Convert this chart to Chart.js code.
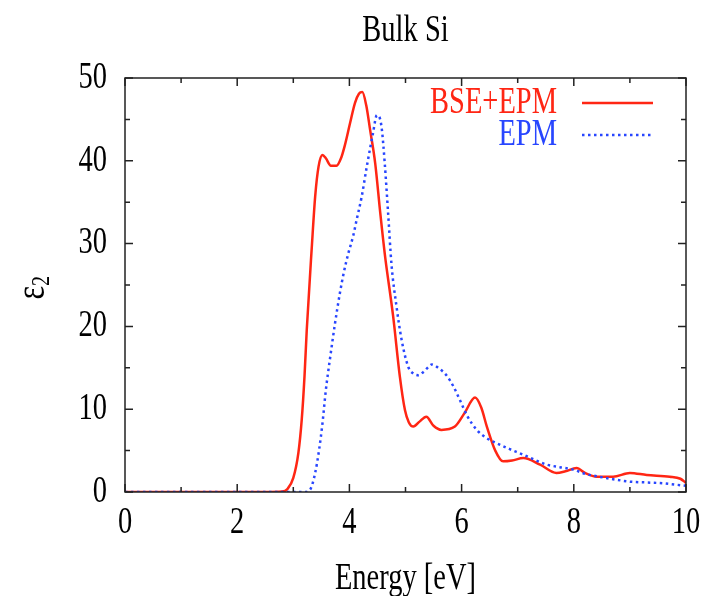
<!DOCTYPE html>
<html>
<head>
<meta charset="utf-8">
<script src="https://cdn.jsdelivr.net/npm/chart.js@4/dist/chart.umd.min.js"></script>
<style>
  html, body { margin: 0; padding: 0; background: #fff; }
  #wrap { width: 708px; height: 596px; }
</style>
</head>
<body>
<div id="wrap"><canvas id="c" width="708" height="596"></canvas></div>
<script>
// BSE+EPM curve (energy in eV, eps2)
const bseEnergy = [0, 2.5, 2.8, 2.9, 3.0, 3.09, 3.15, 3.2, 3.24, 3.33, 3.39, 3.45, 3.52, 3.58, 3.67, 3.77, 3.85, 3.92, 4.01, 4.1, 4.17, 4.23, 4.3, 4.37, 4.46, 4.55, 4.63, 4.78, 4.9, 4.99, 5.06, 5.14, 5.25, 5.37, 5.5, 5.64, 5.88, 6.05, 6.24, 6.35, 6.45, 6.6, 6.74, 6.9, 7.1, 7.4, 7.69, 7.85, 8.05, 8.2, 8.41, 8.7, 9.0, 9.3, 9.71, 9.9, 10];
const bseValues = [0, 0, 0.05, 0.4, 1.7, 4.7, 8.7, 14, 19.6, 29.6, 35.7, 39.3, 40.7, 40.3, 39.4, 39.4, 40.3, 41.9, 44.5, 47, 48.1, 48.3, 46.7, 43.7, 39.7, 33.7, 28.8, 21.2, 13.9, 9.9, 8.4, 7.9, 8.5, 9.1, 8.0, 7.5, 7.9, 9.5, 11.4, 10.2, 7.9, 5, 3.7, 3.8, 4.1, 3.3, 2.3, 2.5, 2.9, 2.3, 1.85, 1.85, 2.3, 2.05, 1.85, 1.6, 1.1];

// EPM curve
const epmEnergy = [0, 3.2, 3.3, 3.39, 3.46, 3.52, 3.58, 3.65, 3.74, 3.83, 3.9, 3.98, 4.07, 4.13, 4.22, 4.31, 4.42, 4.49, 4.54, 4.58, 4.63, 4.69, 4.75, 4.84, 4.93, 5.05, 5.14, 5.23, 5.32, 5.41, 5.47, 5.6, 5.73, 5.85, 5.97, 6.1, 6.27, 6.45, 6.62, 6.85, 7.1, 7.3, 7.52, 7.75, 7.99, 8.2, 8.41, 8.7, 9.0, 9.3, 9.6, 9.8, 10];
const epmValues = [0, 0, 0.3, 2.3, 5.1, 8.3, 12.3, 15.9, 20.2, 24, 26.5, 28.8, 31, 32.9, 35.7, 39.3, 43.3, 45.5, 45.2, 43.7, 39.7, 33.7, 27.5, 22.4, 18.4, 15.1, 14.3, 14.1, 14.5, 15.1, 15.4, 14.9, 14.1, 12.8, 11.1, 9.2, 7.5, 6.5, 5.9, 5.2, 4.5, 3.9, 3.3, 3.0, 2.7, 2.2, 1.9, 1.55, 1.25, 1.15, 1.05, 0.9, 0.75];

const seriesNames = ['BSE+EPM', 'EPM'];
const xTicks = [0, 2, 4, 6, 8, 10];
const yTicks = [0, 10, 20, 30, 40, 50];

const RED = 'rgb(255,38,20)';
const BLUE = 'rgb(40,70,255)';
const FONT = '"Liberation Serif", "Times New Roman", serif';
const SQUEEZE = 0.77; // gnuplot text is tall and narrow

function toPoints(xs, ys) {
  return xs.map((x, i) => ({ x: x, y: ys[i] }));
}

function text(ctx, str, x, y, align, size, color) {
  ctx.save();
  ctx.translate(x, y);
  ctx.scale(SQUEEZE, 1);
  ctx.font = size + 'px ' + FONT;
  ctx.fillStyle = color || '#000';
  ctx.textAlign = align;
  ctx.textBaseline = 'middle';
  ctx.fillText(str, 0, 0);
  ctx.restore();
}

// frame, inward ticks on all sides, labels and legend
const decor = {
  id: 'decor',
  afterDatasetsDraw(chart) {
    const ctx = chart.ctx;
    const a = chart.chartArea;
    const xs = chart.scales.x, ys = chart.scales.y;
    ctx.save();
    ctx.strokeStyle = '#222';
    ctx.lineWidth = 1.5;
    ctx.strokeRect(a.left, a.top, a.right - a.left, a.bottom - a.top);

    ctx.beginPath();
    for (let v = 0; v <= 10; v += 1) {
      const px = xs.getPixelForValue(v);
      const len = v % 2 === 0 ? 8 : 5;
      ctx.moveTo(px, a.bottom); ctx.lineTo(px, a.bottom - len);
      ctx.moveTo(px, a.top); ctx.lineTo(px, a.top + len);
    }
    for (let v = 0; v <= 50; v += 5) {
      const py = ys.getPixelForValue(v);
      const len = v % 10 === 0 ? 8 : 5;
      ctx.moveTo(a.left, py); ctx.lineTo(a.left + len, py);
      ctx.moveTo(a.right, py); ctx.lineTo(a.right - len, py);
    }
    ctx.stroke();
    ctx.restore();

    // tick labels
    xTicks.forEach(v => text(ctx, String(v), xs.getPixelForValue(v), a.bottom + 31, 'center', 37));
    yTicks.forEach(v => text(ctx, String(v), a.left - 18, ys.getPixelForValue(v), 'right', 37));

    // title and axis labels
    const cx = (a.left + a.right) / 2;
    text(ctx, 'Bulk Si', cx, 31, 'center', 37);
    text(ctx, 'Energy [eV]', cx, 579, 'center', 37);

    ctx.save();
    ctx.translate(33, 290);
    ctx.rotate(-Math.PI / 2);
    text(ctx, 'ε', 4, 0, 'right', 42);
    text(ctx, '2', 4, 9, 'left', 26);
    ctx.restore();

    // legend
    text(ctx, seriesNames[0], 557, 103, 'right', 37, RED);
    text(ctx, seriesNames[1], 557, 135, 'right', 37, BLUE);

    ctx.save();
    ctx.lineWidth = 2.5;
    ctx.strokeStyle = RED;
    ctx.beginPath(); ctx.moveTo(582, 103); ctx.lineTo(653, 103); ctx.stroke();
    ctx.strokeStyle = BLUE;
    ctx.setLineDash([2.5, 3.5]);
    ctx.beginPath(); ctx.moveTo(582, 135); ctx.lineTo(653, 135); ctx.stroke();
    ctx.restore();
  }
};

new Chart(document.getElementById('c'), {
  type: 'scatter',
  data: {
    datasets: [
      {
        label: seriesNames[0],
        data: toPoints(bseEnergy, bseValues),
        showLine: true,
        borderColor: RED,
        borderWidth: 2.5,
        pointRadius: 0,
        cubicInterpolationMode: 'monotone',
        order: 2
      },
      {
        label: seriesNames[1],
        data: toPoints(epmEnergy, epmValues),
        showLine: true,
        borderColor: BLUE,
        borderWidth: 2.5,
        borderDash: [2.5, 3.5],
        pointRadius: 0,
        cubicInterpolationMode: 'monotone',
        order: 1
      }
    ]
  },
  options: {
    responsive: false,
    animation: false,
    layout: { padding: { left: 0, right: 22, top: 78, bottom: 0 } },
    plugins: {
      legend: { display: false },
      title: { display: false },
      tooltip: { enabled: false }
    },
    scales: {
      x: {
        type: 'linear',
        min: 0, max: 10,
        afterFit: s => { s.height = 104; },
        grid: { display: false, drawTicks: false },
        border: { display: false },
        ticks: { display: false }
      },
      y: {
        min: 0, max: 50,
        afterFit: s => { s.width = 125; },
        grid: { display: false, drawTicks: false },
        border: { display: false },
        ticks: { display: false }
      }
    }
  },
  plugins: [decor]
});
</script>
</body>
</html>
